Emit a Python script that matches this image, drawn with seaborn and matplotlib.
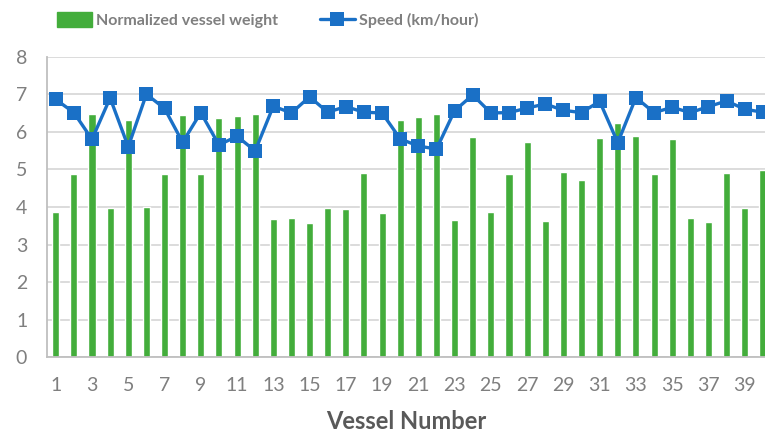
import matplotlib
matplotlib.use("Agg")
import matplotlib.pyplot as plt
import seaborn as sns
import pandas as pd
from matplotlib.patches import Patch
from matplotlib.lines import Line2D

vessel = list(range(1, 41))
weight = [3.86, 4.87, 6.47, 3.96, 6.30, 4.01, 4.88, 6.44, 4.87, 6.37,
          6.43, 6.47, 3.69, 3.71, 3.57, 3.96, 3.94, 4.90, 3.83, 6.30,
          6.40, 6.47, 3.64, 5.86, 3.86, 4.88, 5.72, 3.63, 4.92, 4.72,
          5.83, 6.24, 5.89, 4.87, 5.82, 3.70, 3.59, 4.89, 3.96, 4.98]
speed = [6.86, 6.51, 5.80, 6.90, 5.60, 7.00, 6.62, 5.72, 6.51, 5.65,
         5.88, 5.49, 6.68, 6.50, 6.93, 6.52, 6.67, 6.52, 6.50, 5.81,
         5.62, 5.54, 6.56, 6.98, 6.50, 6.51, 6.63, 6.74, 6.57, 6.51,
         6.81, 5.71, 6.91, 6.51, 6.65, 6.51, 6.67, 6.82, 6.60, 6.52]
xticks = list(range(1, 40, 2))

df = pd.DataFrame({"vessel": vessel, "weight": weight, "speed": speed})

green = "#43ad3b"
blue = "#1a70c6"
gray = "#7f7f7f"

sns.set_theme(style="white")
plt.rcParams["font.family"] = ["Lato", "DejaVu Sans"]

fig = plt.figure(figsize=(7.65, 4.32), dpi=100)
ax = fig.add_axes([0.061, 0.173, 0.939, 0.696])

sns.barplot(data=df, x="vessel", y="weight", native_scale=True, width=0.39,
            color=green, saturation=1, ax=ax, zorder=2)
sns.lineplot(data=df, x="vessel", y="speed", color=blue, linewidth=2.4,
             marker="s", markersize=10, markeredgewidth=0, ax=ax, zorder=3,
             clip_on=False)

ax.set_xlim(0.5, 40.12)
ax.set_ylim(0, 8)
ax.set_yticks(range(0, 9))
ax.set_xticks(xticks)
ax.set_xticklabels([str(t) for t in xticks])
ax.yaxis.grid(True, color="#d9d9d9", linewidth=1.3, zorder=0)
ax.set_axisbelow(True)
ax.tick_params(axis="both", colors=gray, labelsize=14, length=0)
ax.tick_params(axis="x", pad=14)
ax.tick_params(axis="y", pad=14)
for s in ["top", "right"]:
    ax.spines[s].set_visible(False)
for s in ["left", "bottom"]:
    ax.spines[s].set_color("#bfbfbf")
    ax.spines[s].set_linewidth(1.3)
ax.set_xlabel("Vessel Number", fontsize=17, fontweight="bold", color="#595959",
              labelpad=12)
ax.set_ylabel("")

handles = [Patch(color=green, label="Normalized vessel weight"),
           Line2D([], [], color=blue, linewidth=2.4, marker="s", markersize=10,
                  markeredgewidth=0, label="Speed (km/hour)")]
leg = fig.legend(handles=handles, loc="center", bbox_to_anchor=(0.35, 0.953),
                 ncol=2, frameon=False, fontsize=11.5, handlelength=2.2,
                 handleheight=1.0, handletextpad=0.25, columnspacing=2.6)
for t in leg.get_texts():
    t.set_color(gray)
    t.set_fontweight("bold")

fig.savefig("out.png", dpi=100)
